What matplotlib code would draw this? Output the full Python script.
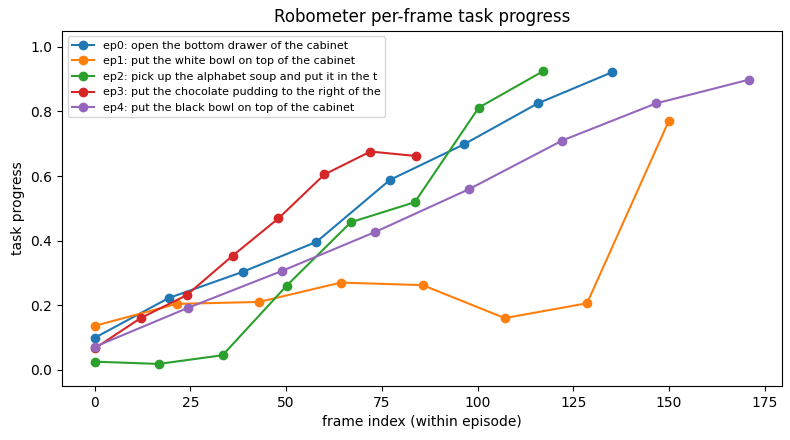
import matplotlib
matplotlib.use("Agg")
import matplotlib.pyplot as plt

# per-episode frame indices and predicted progress
labels = [
    "ep0: open the bottom drawer of the cabinet",
    "ep1: put the white bowl on top of the cabinet",
    "ep2: pick up the alphabet soup and put it in the t",
    "ep3: put the chocolate pudding to the right of the",
    "ep4: put the black bowl on top of the cabinet",
]

ep0_x = [0, 19.3, 38.6, 57.9, 77.1, 96.4, 115.7, 135]
ep0_y = [0.099, 0.222, 0.303, 0.396, 0.588, 0.698, 0.825, 0.921]

ep1_x = [0, 21.4, 42.9, 64.3, 85.7, 107.1, 128.6, 150]
ep1_y = [0.136, 0.204, 0.210, 0.270, 0.262, 0.160, 0.206, 0.772]

ep2_x = [0, 16.7, 33.4, 50.1, 66.9, 83.6, 100.3, 117]
ep2_y = [0.025, 0.018, 0.045, 0.260, 0.457, 0.519, 0.812, 0.924]

ep3_x = [0, 12, 24, 36, 48, 60, 72, 84]
ep3_y = [0.066, 0.160, 0.231, 0.353, 0.469, 0.605, 0.676, 0.662]

ep4_x = [0, 24.4, 48.9, 73.3, 97.7, 122.1, 146.6, 171]
ep4_y = [0.071, 0.192, 0.306, 0.427, 0.559, 0.710, 0.825, 0.899]


def main():
    xs = [ep0_x, ep1_x, ep2_x, ep3_x, ep4_x]
    ys = [ep0_y, ep1_y, ep2_y, ep3_y, ep4_y]

    fig, ax = plt.subplots(figsize=(7.9, 4.4), dpi=100)
    for x, y, lab in zip(xs, ys, labels):
        ax.plot(x, y, marker="o", label=lab)

    ax.set_ylim(-0.05, 1.05)
    ax.set_xlabel("frame index (within episode)")
    ax.set_ylabel("task progress")
    ax.set_title("Robometer per-frame task progress")
    ax.legend(fontsize=8, loc="upper left")
    fig.subplots_adjust(left=0.0785, right=0.99, top=0.93, bottom=0.123)
    fig.savefig("out.png", dpi=100)


if __name__ == '__main__':
    main()
